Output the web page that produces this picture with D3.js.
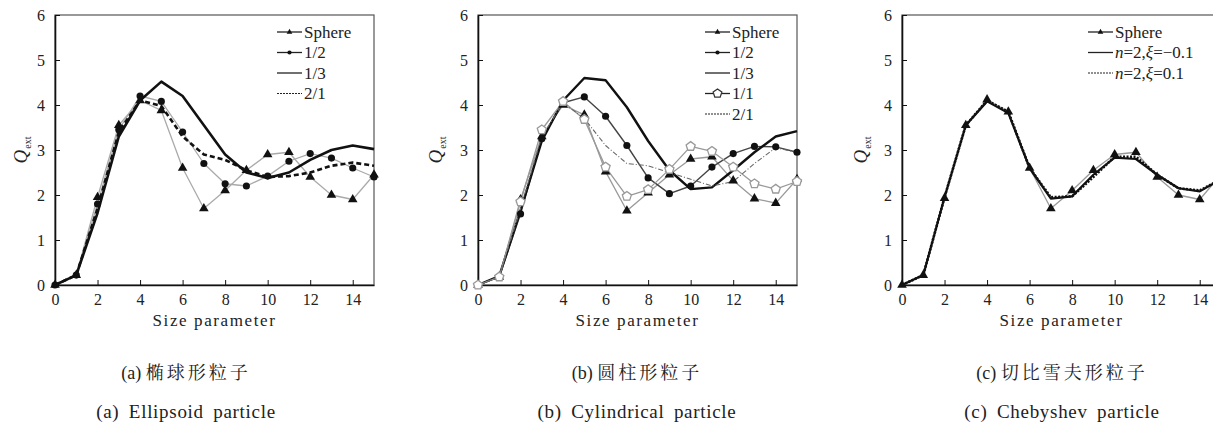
<!DOCTYPE html>
<meta charset="utf-8">
<script src="https://d3js.org/d3.v7.min.js"></script>
<style>
  body { margin: 0; background: #fff; }
</style>
<div id="chart"></div>
<script>
// size parameter (x values shared by every series)
var sizeParam = [0, 1, 2, 3, 4, 5, 6, 7, 8, 9, 10, 11, 12, 13, 14, 15];
var xTicks = [0, 2, 4, 6, 8, 10, 12, 14];
var yTicks = [0, 1, 2, 3, 4, 5, 6];

// (a) ellipsoid
var ellSphere = [0, 0.22, 1.95, 3.55, 4.1, 3.88, 2.6, 1.7, 2.1, 2.55, 2.9, 2.95, 2.4, 2.0, 1.9, 2.45];
var ellHalf   = [0, 0.22, 1.8, 3.45, 4.2, 4.08, 3.4, 2.7, 2.25, 2.2, 2.42, 2.75, 2.92, 2.82, 2.6, 2.4];
var ellThird  = [0, 0.22, 1.6, 3.3, 4.1, 4.52, 4.2, 3.55, 2.9, 2.5, 2.38, 2.5, 2.78, 3.0, 3.1, 3.02];
var ellTwo    = [0, 0.22, 1.7, 3.4, 4.1, 3.98, 3.3, 2.9, 2.78, 2.55, 2.4, 2.42, 2.5, 2.65, 2.72, 2.65];

// (b) cylinder
var cylSphere = [0, 0.18, 1.9, 3.3, 4.0, 3.78, 2.52, 1.65, 2.05, 2.45, 2.8, 2.85, 2.32, 1.92, 1.82, 2.35];
var cylHalf   = [0, 0.18, 1.58, 3.25, 4.05, 4.18, 3.75, 3.1, 2.38, 2.03, 2.2, 2.62, 2.92, 3.08, 3.07, 2.95];
var cylThird  = [0, 0.2, 1.65, 3.2, 4.1, 4.6, 4.55, 3.95, 3.2, 2.55, 2.13, 2.17, 2.55, 2.95, 3.3, 3.42];
var cylOne    = [0, 0.18, 1.85, 3.45, 4.08, 3.68, 2.62, 1.97, 2.12, 2.57, 3.08, 2.97, 2.62, 2.25, 2.13, 2.3];
var cylTwo    = [0, 0.18, 1.7, 3.3, 4.05, 3.7, 3.1, 2.7, 2.65, 2.5, 2.35, 2.2, 2.3, 2.7, 3.05, 2.95];

// (c) Chebyshev
var chebSphere = [0, 0.22, 1.93, 3.55, 4.12, 3.85, 2.6, 1.7, 2.1, 2.55, 2.9, 2.95, 2.4, 2.0, 1.9, 2.45];
var chebNeg    = [0, 0.22, 1.95, 3.55, 4.08, 3.82, 2.6, 1.92, 1.97, 2.45, 2.83, 2.8, 2.45, 2.15, 2.08, 2.35];
var chebPos    = [0, 0.22, 1.95, 3.55, 4.1, 3.85, 2.6, 1.95, 1.97, 2.4, 2.85, 2.85, 2.45, 2.15, 2.1, 2.35];

var W = 1213, H = 423;
var plotW = 319, plotH = 270, plotTop = 15;
var serif = "'Liberation Serif', 'DejaVu Serif', serif";
var cjk = "'Noto Serif CJK SC', 'Noto Sans CJK SC', serif";

var svg = d3.select("#chart").append("svg").attr("width", W).attr("height", H)
  .attr("font-family", serif);

var panels = [
  {
    left: 55, titleX: 27, legendX: 277, legendY: 32, capX: 186,
    capCn: "(a)", capCnText: "椭球形粒子", capEn: "(a) Ellipsoid particle",
    series: [
      {name: "Sphere", values: ellSphere, stroke: "#aaa", width: 1.3, marker: "tri"},
      {name: "1/2", values: ellHalf, stroke: "#aaa", width: 1.3, marker: "circle"},
      {name: "1/3", values: ellThird, stroke: "#111", width: 2.6},
      {name: "2/1", values: ellTwo, stroke: "#111", width: 2.6, dash: "5,3"}
    ]
  },
  {
    left: 478, titleX: 442, legendX: 705, legendY: 32, capX: 637,
    capCn: "(b)", capCnText: "圆柱形粒子", capEn: "(b) Cylindrical particle",
    series: [
      {name: "Sphere", values: cylSphere, stroke: "#999", width: 1.3, marker: "tri"},
      {name: "1/2", values: cylHalf, stroke: "#444", width: 1.4, marker: "circle"},
      {name: "1/3", values: cylThird, stroke: "#111", width: 2.4},
      {name: "1/1", values: cylOne, stroke: "#999", width: 1.3, marker: "pent"},
      {name: "2/1", values: cylTwo, stroke: "#666", width: 1.1, dash: "5,2,1,2"}
    ]
  },
  {
    left: 902, titleX: 867, legendX: 1088, legendY: 32, capX: 1062,
    capCn: "(c)", capCnText: "切比雪夫形粒子", capEn: "(c) Chebyshev particle",
    series: [
      {name: "Sphere", values: chebSphere, stroke: "#999", width: 1.3, marker: "tri"},
      {name: "n=2,ξ=−0.1", values: chebNeg, stroke: "#111", width: 2.2, italic: true},
      {name: "n=2,ξ=0.1", values: chebPos, stroke: "#111", width: 2.6, dash: "2,1.5", italic: true}
    ]
  }
];

function drawMarker(sel, type, size) {
  if (type === "tri") {
    sel.append("path").attr("d", d3.symbol(d3.symbolTriangle).size(size)()).attr("fill", "#111");
  } else if (type === "circle") {
    sel.append("circle").attr("r", Math.sqrt(size / Math.PI)).attr("fill", "#111");
  } else if (type === "pent") {
    var r = Math.sqrt(size / 2.4);
    var pts = d3.range(5).map(function(i) {
      var a = -Math.PI / 2 + i * 2 * Math.PI / 5;
      return [r * Math.cos(a), r * Math.sin(a)];
    });
    sel.append("path").attr("d", "M" + pts.join("L") + "Z")
      .attr("fill", "#fff").attr("stroke", "#999").attr("stroke-width", 1.3);
  }
}

function legendLabel(text, name, italic) {
  if (!italic) { text.text(name); return; }
  // n=2,ξ=... with italic variables
  var rest = name.slice(1);
  var parts = rest.split("ξ");
  text.append("tspan").attr("font-style", "italic").text("n");
  text.append("tspan").text(parts[0]);
  text.append("tspan").attr("font-style", "italic").text("ξ");
  text.append("tspan").text(parts[1]);
}

function styleAxis(a) {
  a.attr("font-family", serif);
  a.select(".domain").attr("stroke", "#111").attr("stroke-width", 1.6);
  a.selectAll("line").attr("stroke", "#111");
  a.selectAll("text").attr("font-size", 16).attr("fill", "#222").style("font-family", serif);
}

panels.forEach(function(p) {
  var x = d3.scaleLinear().domain([0, 15]).range([p.left, p.left + plotW]);
  var y = d3.scaleLinear().domain([0, 6]).range([plotTop + plotH, plotTop]);
  var g = svg.append("g");

  // frame
  g.append("rect").attr("x", x(0)).attr("y", y(6)).attr("width", x(15) - x(0)).attr("height", y(0) - y(6))
    .attr("fill", "none").attr("stroke", "#555").attr("stroke-width", 1.2);

  // axes (ticks inward)
  g.append("g").attr("transform", "translate(0," + y(0) + ")")
    .call(d3.axisBottom(x).tickValues(xTicks).tickFormat(d3.format("d")).tickSizeInner(-5).tickSizeOuter(0).tickPadding(9))
    .call(styleAxis);
  g.append("g").attr("transform", "translate(" + x(0) + ",0)")
    .call(d3.axisLeft(y).tickValues(yTicks).tickFormat(d3.format("d")).tickSizeInner(-5).tickSizeOuter(0).tickPadding(10))
    .call(styleAxis);

  // axis titles
  var yt = g.append("text").attr("transform", "translate(" + p.titleX + "," + (plotTop + plotH / 2) + ") rotate(-90)")
    .attr("text-anchor", "middle").attr("font-size", 19).attr("fill", "#222").style("font-family", serif);
  yt.append("tspan").attr("font-style", "italic").text("Q");
  yt.append("tspan").attr("font-size", 10).attr("dx", 1).attr("dy", 4).text("ext");

  g.append("text").attr("x", x(7.5)).attr("y", 326).attr("text-anchor", "middle").attr("fill", "#222")
    .style("font-family", serif).attr("font-size", 17).attr("letter-spacing", 1.6).text("Size parameter");

  // lines
  var line = d3.line().x(function(d, i) { return x(sizeParam[i]); }).y(function(d) { return y(d); });
  p.series.forEach(function(s) {
    g.append("path").datum(s.values).attr("d", line).attr("fill", "none")
      .attr("stroke", s.stroke).attr("stroke-width", s.width)
      .attr("stroke-dasharray", s.dash || null).attr("stroke-linejoin", "round");
  });
  p.series.forEach(function(s) {
    if (!s.marker) return;
    g.selectAll(null).data(s.values).enter().append("g")
      .attr("transform", function(d, i) { return "translate(" + x(sizeParam[i]) + "," + y(d) + ")"; })
      .each(function() { drawMarker(d3.select(this), s.marker, s.marker === "pent" ? 55 : 40); });
  });

  // legend
  p.series.forEach(function(s, i) {
    var ly = p.legendY + i * 20.5;
    var lg = g.append("g").attr("transform", "translate(" + p.legendX + "," + ly + ")");
    lg.append("line").attr("x1", 0).attr("x2", 25).attr("stroke", "#222")
      .attr("stroke-width", s.dash ? 1.2 : 1.3)
      .attr("stroke-dasharray", s.dash ? "2,1" : null);
    if (s.marker) {
      var m = lg.append("g").attr("transform", "translate(12.5,0)");
      drawMarker(m, s.marker, s.marker === "pent" ? 50 : 14);
      if (s.marker === "pent") m.select("path").attr("stroke", "#333");
    }
    var t = lg.append("text").attr("x", 27).attr("y", 5.5).attr("font-size", 17).attr("fill", "#222")
      .style("font-family", serif);
    legendLabel(t, s.name, s.italic);
  });

  // captions
  var cn = g.append("text").attr("x", p.capX).attr("y", 379).attr("text-anchor", "middle")
    .attr("font-size", 18).attr("fill", "#222").style("font-family", serif);
  cn.append("tspan").text(p.capCn + " ");
  cn.append("tspan").style("font-family", cjk).attr("letter-spacing", 3).text(p.capCnText);
  g.append("text").attr("x", p.capX).attr("y", 418).attr("text-anchor", "middle").attr("fill", "#222")
    .style("font-family", serif)
    .attr("font-size", 19).attr("letter-spacing", 0.7).attr("word-spacing", 4).text(p.capEn);
});
</script>
